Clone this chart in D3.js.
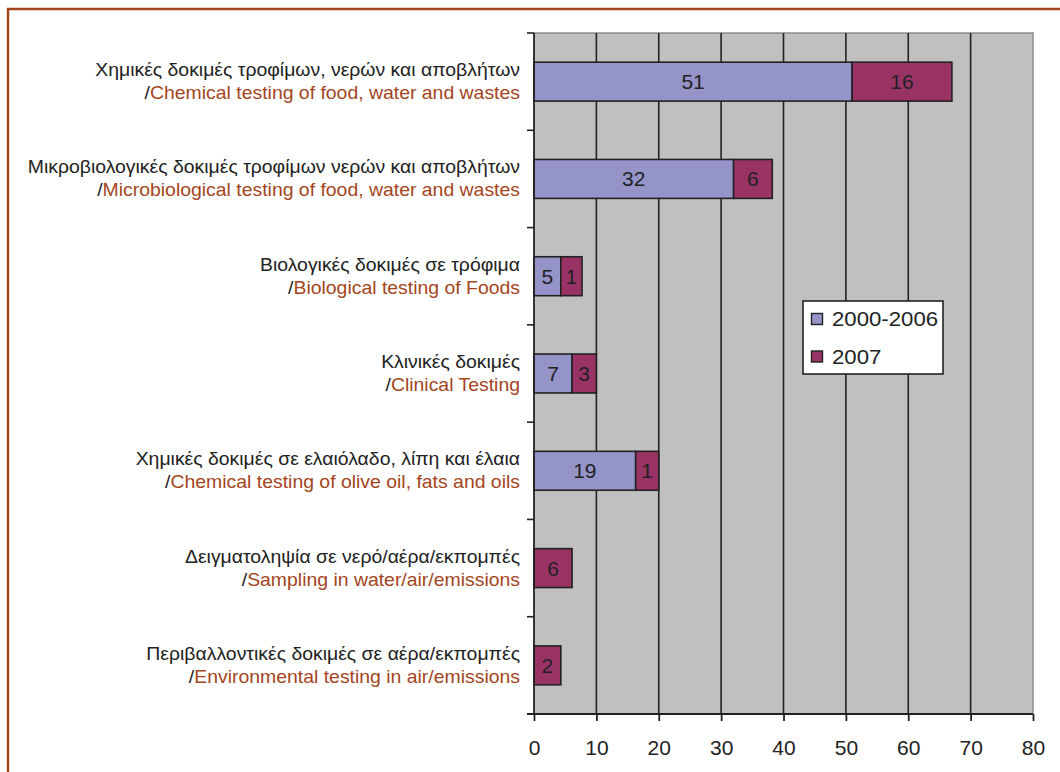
<!DOCTYPE html>
<html>
<head>
<meta charset="utf-8">
<script src="https://cdn.jsdelivr.net/npm/d3@7"></script>
<style>
  html, body { margin: 0; padding: 0; background: #ffffff; }
  svg { display: block; font-family: "Liberation Sans", Arial, Helvetica, sans-serif; }
</style>
</head>
<body>
<svg id="chart" width="1060" height="772"></svg>
<script>
// ---- data ----
const categoriesGreek = [
  "Χημικές δοκιμές τροφίμων, νερών και αποβλήτων",
  "Μικροβιολογικές δοκιμές τροφίμων νερών και αποβλήτων",
  "Βιολογικές δοκιμές σε τρόφιμα",
  "Κλινικές δοκιμές",
  "Χημικές δοκιμές σε ελαιόλαδο, λίπη και έλαια",
  "Δειγματοληψία σε νερό/αέρα/εκπομπές",
  "Περιβαλλοντικές δοκιμές σε αέρα/εκπομπές"
];
const categoriesEnglish = [
  "Chemical testing of food, water and wastes",
  "Microbiological testing of food, water and wastes",
  "Biological testing of Foods",
  "Clinical Testing",
  "Chemical testing of olive oil, fats and oils",
  "Sampling in water/air/emissions",
  "Environmental testing in air/emissions"
];
const seriesNames = ["2000-2006", "2007"];
// bar lengths as drawn in the picture
const values2000_2006 = [51, 32, 4.3, 6.1, 16.3, 0, 0];
const values2007 = [16, 6.2, 3.4, 3.9, 3.7, 6.1, 4.3];
// data labels as printed on the bars
const labels2000_2006 = ["51", "32", "5", "7", "19", "", ""];
const labels2007 = ["16", "6", "1", "3", "1", "6", "2"];
const xTicks = [0, 10, 20, 30, 40, 50, 60, 70, 80];

// ---- styles ----
const colors = ["#9494c8", "#993366"];
const brown = "#a3451d";
const dark = "#222222";

const svg = d3.select("#chart");

// outer frame lines (top and left)
svg.append("line").attr("x1", 7).attr("x2", 1060).attr("y1", 9).attr("y2", 9)
  .attr("stroke", brown).attr("stroke-width", 2.5);
svg.append("line").attr("x1", 8).attr("x2", 8).attr("y1", 8).attr("y2", 772)
  .attr("stroke", brown).attr("stroke-width", 2.5);

const plot = { left: 534, right: 1033, top: 33, bottom: 714 };

const x = d3.scaleLinear().domain([0, 80]).range([plot.left, plot.right]);
const y = d3.scaleBand().domain(d3.range(categoriesGreek.length))
  .range([plot.top, plot.bottom]).paddingInner(0.6).paddingOuter(0.3);
const step = y.step();

// plot background
svg.append("rect")
  .attr("x", plot.left).attr("y", plot.top)
  .attr("width", plot.right - plot.left).attr("height", plot.bottom - plot.top)
  .attr("fill", "#c0c0c0");
// top & right border of plot area
svg.append("path")
  .attr("d", `M${plot.left},${plot.top}H${plot.right}V${plot.bottom}`)
  .attr("fill", "none").attr("stroke", "#8c8c8c").attr("stroke-width", 1.5);

// vertical gridlines
svg.append("g").selectAll("line")
  .data(xTicks.filter(t => t > 0 && t < 80))
  .join("line")
  .attr("x1", d => x(d)).attr("x2", d => x(d))
  .attr("y1", plot.top).attr("y2", plot.bottom)
  .attr("stroke", dark).attr("stroke-width", 1.6);

// stacked bars
const stackData = categoriesGreek.map((c, i) => ({ i, a: values2000_2006[i], b: values2007[i] }));
const stack = d3.stack().keys(["a", "b"])(stackData);
const barLabels = [labels2000_2006, labels2007];

stack.forEach((layer, k) => {
  const g = svg.append("g");
  g.selectAll("rect")
    .data(layer.filter(d => d[1] - d[0] > 0))
    .join("rect")
    .attr("x", d => x(d[0]))
    .attr("y", d => y(d.data.i))
    .attr("width", d => x(d[1]) - x(d[0]))
    .attr("height", y.bandwidth())
    .attr("fill", colors[k])
    .attr("stroke", dark).attr("stroke-width", 1.6);
  g.selectAll("text")
    .data(layer.filter(d => d[1] - d[0] > 0))
    .join("text")
    .attr("x", d => (x(d[0]) + x(d[1])) / 2)
    .attr("y", d => y(d.data.i) + y.bandwidth() / 2 + 7.5)
    .attr("text-anchor", "middle")
    .attr("font-size", 21)
    .attr("fill", dark)
    .text(d => barLabels[k][d.data.i]);
});

// y axis line + category ticks
svg.append("line").attr("x1", plot.left).attr("x2", plot.left)
  .attr("y1", plot.top).attr("y2", plot.bottom)
  .attr("stroke", dark).attr("stroke-width", 1.8);
svg.append("g").selectAll("line")
  .data(d3.range(categoriesGreek.length + 1))
  .join("line")
  .attr("x1", plot.left - 7).attr("x2", plot.left)
  .attr("y1", d => plot.top + d * step).attr("y2", d => plot.top + d * step)
  .attr("stroke", dark).attr("stroke-width", 1.6);

// x axis
svg.append("line").attr("x1", plot.left - 7).attr("x2", plot.right)
  .attr("y1", plot.bottom).attr("y2", plot.bottom)
  .attr("stroke", dark).attr("stroke-width", 2);
const xAxis = d3.axisBottom(x).tickValues(xTicks).tickSize(7).tickPadding(19).tickFormat(d3.format("d"));
const gx = svg.append("g").attr("transform", `translate(0,${plot.bottom})`).call(xAxis);
gx.select(".domain").remove();
gx.selectAll(".tick line").attr("stroke", dark).attr("stroke-width", 1.8);
gx.selectAll(".tick text").attr("font-size", 21).attr("fill", dark)
  .attr("font-family", "Liberation Sans, Arial, sans-serif");

// category labels (slightly widened, as in the reference)
const labG = svg.append("g").attr("transform", "translate(520,0) scale(1.11,1)");
categoriesGreek.forEach((c, i) => {
  const cy = y(i) + y.bandwidth() / 2;
  labG.append("text")
    .attr("x", 0).attr("y", cy - 5.5)
    .attr("text-anchor", "end").attr("font-size", 17.5).attr("fill", dark)
    .text(c);
  const t = labG.append("text")
    .attr("x", 0).attr("y", cy + 17.5)
    .attr("text-anchor", "end").attr("font-size", 17.5);
  t.append("tspan").attr("fill", dark).text("/");
  t.append("tspan").attr("fill", brown).text(categoriesEnglish[i]);
});

// legend
const lg = svg.append("g").attr("transform", "translate(803,301)");
lg.append("rect").attr("width", 140).attr("height", 73)
  .attr("fill", "#ffffff").attr("stroke", dark).attr("stroke-width", 1.6);
seriesNames.forEach((s, k) => {
  const cy = 18 + k * 37.5;
  lg.append("rect").attr("x", 8.5).attr("y", cy - 5.5).attr("width", 11).attr("height", 11)
    .attr("fill", colors[k]).attr("stroke", dark).attr("stroke-width", 1.4);
  lg.append("text").attr("transform", `translate(29,${cy + 7}) scale(1.11,1)`)
    .attr("font-size", 20).attr("fill", dark).text(s);
});
</script>
</body>
</html>
